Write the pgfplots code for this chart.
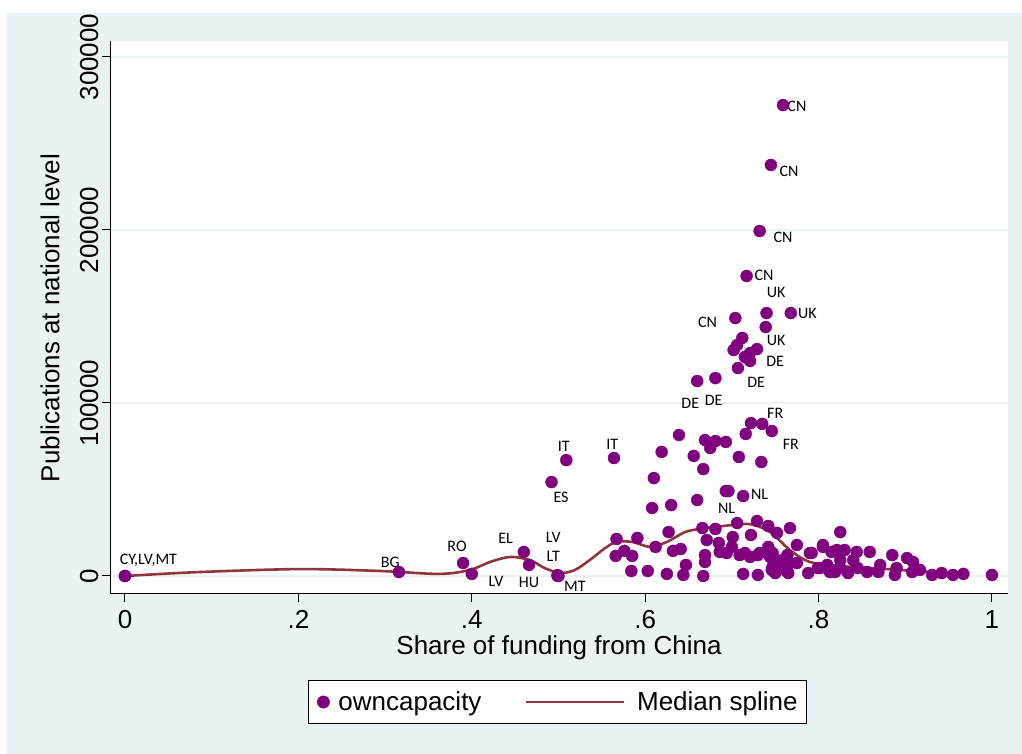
\documentclass[border=0pt]{standalone}
\usepackage{fontspec}
\setmainfont{Liberation Sans}
\newfontfamily\lblfont{Carlito}
\usepackage{pgfplots}
\pgfplotsset{compat=1.18}

\definecolor{stpurple}{RGB}{128,0,128}
\definecolor{stcran}{RGB}{144,53,59}
\definecolor{stbg}{RGB}{234,242,243}

\newcommand\tfont{\fontsize{26bp}{30bp}\selectfont}
\newcommand\lfont{\lblfont\fontsize{16bp}{18bp}\selectfont}

\pgfplotsset{
    marklegend/.style={legend image code/.code={%
        \draw[mark repeat=2,mark phase=2,##1] plot coordinates {(0bp,0bp)(6bp,0bp)(12bp,0bp)};}},
    linelegend/.style={legend image code/.code={%
        \draw[##1] (0bp,0bp) -- (98bp,0bp);}},
}

\begin{document}
\begin{tikzpicture}
\useasboundingbox (0bp,0bp) rectangle (1022bp,754bp);
\fill[white] (0bp,0bp) rectangle (1022bp,754bp);
\fill[stbg] (7bp,0bp) rectangle (1022bp,741bp);

\begin{axis}[
    at={(110bp,160bp)}, anchor=south west,
    width=898bp, height=553bp, scale only axis,
    xmin=-0.0173, xmax=1.0185,
    ymin=-10405, ymax=309250,
    axis background/.style={fill=white},
    axis x line*=bottom, axis y line*=left,
    axis line style={black, line width=1bp, -},
    tick align=outside,
    major tick length=8bp,
    tick style={black, line width=1bp},
    xtick={0,0.2,0.4,0.6,0.8,1},
    xticklabels={0,.2,.4,.6,.8,1},
    ytick={0,100000,200000,300000},
    yticklabels={0,100000,200000,300000},
    scaled y ticks=false,
    ticklabel style={font=\tfont},
    xticklabel style={yshift=-5bp},
    yticklabel style={rotate=90, anchor=south},
    ymajorgrids=true,
    grid style={stbg, line width=2.2bp},
    clip=false,
    legend columns=2,
    legend style={
        at={(0.4983,-0.1953)}, anchor=center,
        draw=black, line width=0.8bp, fill=white,
        font=\tfont,
        inner xsep=9bp, inner ysep=11bp,
        nodes={inner sep=0bp},
        /tikz/column 1/.style={column sep=9bp},
        /tikz/column 2/.style={column sep=43bp},
        /tikz/column 3/.style={column sep=12bp},
    },
]

% scatter of own capacity
\addplot[only marks, mark=*, mark size=6bp,
    mark options={draw=stpurple, fill=stpurple}, marklegend]
coordinates {
(0.759,272200)(0.745,237600)(0.732,199400)(0.717,173400)(0.704,149100)
(0.740,152000)(0.768,152000)(0.739,143900)(0.712,137600)(0.706,133500)
(0.702,130600)(0.729,131200)(0.721,128900)(0.715,126600)(0.721,124300)
(0.707,120200)(0.681,114400)(0.660,112700)
(0.722,88400)(0.735,87900)(0.746,83800)(0.716,82100)(0.639,81500)
(0.669,78600)(0.681,78000)(0.693,77500)(0.675,74000)(0.619,71700)
(0.656,69400)(0.708,68800)(0.734,65900)(0.667,61800)(0.509,67000)
(0.564,68200)(0.492,54300)(0.610,56600)(0.693,49100)(0.696,49100)
(0.713,46200)(0.660,43900)(0.630,41000)(0.608,39300)
(0,0)(0,0)(0,0)(0.316,2300)(0.390,7500)(0.400,1200)(0.460,13900)
(0.466,6400)(0.499,0)(0.499,500)(0.500,0)
(0.567,21400)(0.591,22000)(0.566,11600)(0.576,14500)(0.585,11600)
(0.584,2900)(0.603,2900)(0.612,16800)(0.627,25400)(0.632,14500)
(0.641,15600)(0.625,1200)(0.644,600)(0.647,6400)
(0.666,27700)(0.681,27200)(0.706,30600)(0.729,31800)(0.742,28900)
(0.767,27700)(0.825,25400)(0.752,24900)(0.671,20800)(0.685,19100)
(0.701,22500)(0.722,23700)
(0.669,12100)(0.669,8100)(0.686,13900)(0.700,16800)(0.715,13300)
(0.730,12100)(0.742,16800)(0.747,13300)(0.764,12100)(0.775,17900)
(0.790,13300)(0.805,16800)(0.821,15000)
(0.667,0)(0.713,1200)(0.730,600)(0.746,3500)(0.750,6900)(0.761,3500)
(0.767,7500)(0.788,1700)(0.799,4600)(0.810,6400)(0.819,2300)
(0.694,13300)(0.709,12100)(0.721,11000)(0.732,13300)(0.744,11000)
(0.747,5200)(0.758,9200)(0.775,7500)(0.765,1700)(0.750,1700)
(0.792,13300)(0.805,17900)(0.815,13900)(0.830,15000)(0.844,13900)
(0.859,13900)(0.885,12100)(0.902,10400)(0.909,8100)
(0.802,4600)(0.813,2300)(0.825,4600)(0.834,1700)(0.845,4600)
(0.856,2300)(0.869,2300)(0.888,600)(0.890,4600)(0.908,2300)
(0.917,3500)(0.931,600)(0.942,1700)(0.955,600)(0.967,1200)(1.000,600)
(0.825,9200)(0.840,9200)(0.871,6400)
};
\addlegendentry{owncapacity}

% median spline
\addplot[stcran, line width=2.6bp, smooth, no marks, linelegend]
coordinates {
(0,0)(0.0865,2300)(0.2018,4000)(0.294,2900)(0.363,1200)(0.398,3500)
(0.421,8100)(0.444,11000)(0.467,9200)(0.484,4600)(0.502,1700)
(0.519,3500)(0.536,9200)(0.554,16200)(0.567,19700)(0.585,19700)
(0.606,16800)(0.625,19700)(0.646,25400)(0.663,27200)(0.690,28900)
(0.721,30000)(0.744,25400)(0.767,15000)(0.790,8100)(0.825,5800)
(0.859,4600)(0.894,3500)(0.928,2300)(0.967,600)
};
\addlegendentry{Median spline}

% country labels
\node[font=\lfont] at (axis cs:0.775,271700) {CN};
\node[font=\lfont] at (axis cs:0.766,234100) {CN};
\node[font=\lfont] at (axis cs:0.759,195900) {CN};
\node[font=\lfont] at (axis cs:0.737,174000) {CN};
\node[font=\lfont] at (axis cs:0.751,164200) {UK};
\node[font=\lfont] at (axis cs:0.787,152000) {UK};
\node[font=\lfont] at (axis cs:0.672,146800) {CN};
\node[font=\lfont] at (axis cs:0.751,136400) {UK};
\node[font=\lfont] at (axis cs:0.750,124300) {DE};
\node[font=\lfont] at (axis cs:0.728,112100) {DE};
\node[font=\lfont] at (axis cs:0.679,101700) {DE};
\node[font=\lfont] at (axis cs:0.652,100000) {DE};
\node[font=\lfont] at (axis cs:0.750,94200) {FR};
\node[font=\lfont] at (axis cs:0.768,76300) {FR};
\node[font=\lfont] at (axis cs:0.506,75100) {IT};
\node[font=\lfont] at (axis cs:0.562,76300) {IT};
\node[font=\lfont] at (axis cs:0.503,45700) {ES};
\node[font=\lfont] at (axis cs:0.732,47400) {NL};
\node[font=\lfont] at (axis cs:0.694,39300) {NL};
\node[font=\lfont] at (axis cs:0.027,9200) {CY,LV,MT};
\node[font=\lfont] at (axis cs:0.306,8100) {BG};
\node[font=\lfont] at (axis cs:0.383,17300) {RO};
\node[font=\lfont] at (axis cs:0.439,22000) {EL};
\node[font=\lfont] at (axis cs:0.494,22500) {LV};
\node[font=\lfont] at (axis cs:0.494,11600) {LT};
\node[font=\lfont] at (axis cs:0.428,-3200) {LV};
\node[font=\lfont] at (axis cs:0.466,-4000) {HU};
\node[font=\lfont] at (axis cs:0.519,-5800) {MT};
\end{axis}

\node[font=\tfont] at (559bp,106bp) {Share of funding from China};
\node[font=\tfont, rotate=90] at (50bp,436bp) {Publications at national level};
\end{tikzpicture}
\end{document}
